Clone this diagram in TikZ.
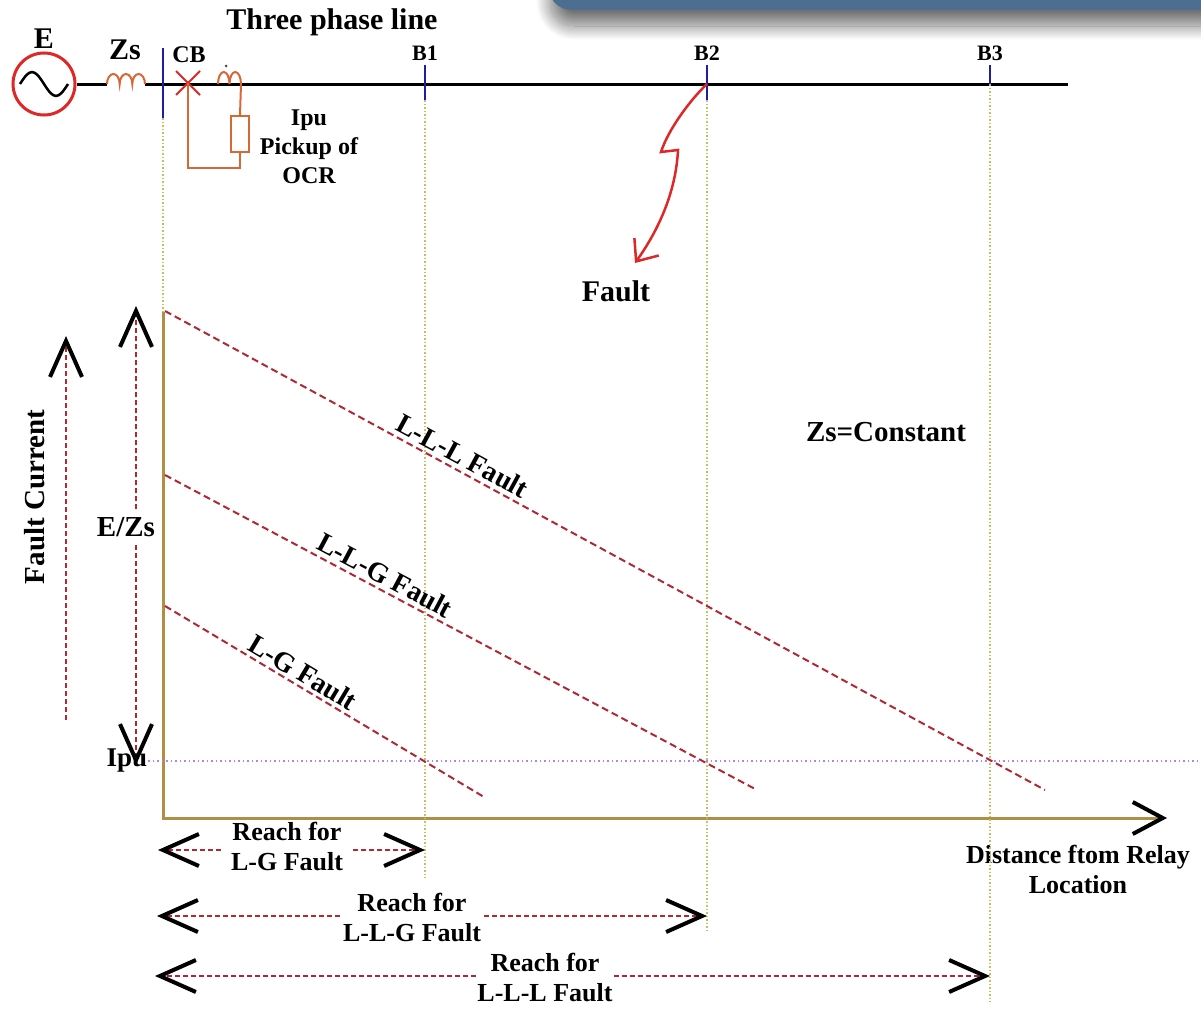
\documentclass[tikz,border=0pt]{standalone}
\usepackage{fontspec}
\setmainfont{Liberation Serif}
\usetikzlibrary{positioning,calc,arrows.meta,shadows.blur}

\definecolor{srcred}{RGB}{222,40,40}
\definecolor{wireorange}{RGB}{214,104,54}
\definecolor{busblue}{RGB}{30,30,160}
\definecolor{guideyellow}{RGB}{196,190,100}
\definecolor{axisgold}{RGB}{176,142,70}
\definecolor{faultred}{RGB}{176,40,52}
\definecolor{ipuviolet}{RGB}{180,130,240}
\definecolor{bannerblue}{RGB}{76,110,145}

\begin{document}
\begin{tikzpicture}[
  x = 1pt,
  y = -1pt,
  big/.style = {
    font = \bfseries\fontsize{30}{32}\selectfont,
    inner sep = 1pt,
  },
  lbl/.style = {
    font = \bfseries\fontsize{26}{30}\selectfont,
    inner sep = 1pt,
    align = center,
  },
  small/.style = {
    font = \bfseries\fontsize{22}{24}\selectfont,
    inner sep = 1pt,
  },
  bus/.style = {draw = busblue, line width = 2.5pt},
  wire/.style = {draw = wireorange, line width = 2pt},
  guide/.style = {draw = guideyellow, line width = 1.3pt, dash pattern = on 1.5pt off 2pt},
  fline/.style = {draw = faultred, line width = 2pt, dash pattern = on 7pt off 4pt},
  dimline/.style = {draw = faultred, line width = 2pt, dash pattern = on 5pt off 3pt},
  axis/.style = {draw = axisgold, line width = 3pt},
  >={Straight Barb[length=36pt, width=32pt, line width=4pt, black]},
]

  \useasboundingbox (0,0) rectangle (1201,1009);

  % slide banner
  \fill[bannerblue, rounded corners=24pt,
    blur shadow={shadow xshift=2pt, shadow yshift=-16pt, shadow blur radius=14pt,
      shadow blur steps=30, shadow opacity=55}]
    (548,-40) rectangle (1240,10);

  % source and line
  \node[draw=srcred, line width=3pt, circle, minimum size=62pt, inner sep=0pt] (src) at (44,84) {};
  \draw[line width=2.5pt] (20,84) sin (32,72) cos (44,84) sin (56,96) cos (68,84);
  \node[big] (e) [above=2pt of src] {E};

  \coordinate (zsa) at (107,84);
  \coordinate (zsb) at (145,84);
  \coordinate (lineend) at (1068,84);
  \draw[line width=3pt] (src.east) -- (zsa);
  \draw[line width=3pt] (zsb) -- (lineend);
  \draw[wire] (zsa) arc[start angle=180, end angle=360, x radius=6.33, y radius=10]
                    arc[start angle=180, end angle=360, x radius=6.33, y radius=10]
                    arc[start angle=180, end angle=360, x radius=6.33, y radius=10];
  \node[big] (zs) at (125,50) {Zs};

  \node[big] (title) at (332,22) {Three phase line};

  % breaker bus
  \coordinate (cbtop) at (163,48);
  \coordinate (cbbot) at (163,118);
  \draw[bus] (cbtop) -- (cbbot);
  \node[small, font=\bfseries\fontsize{24}{26}\selectfont] (cblbl) at (189,55) {CB};

  % breaker, CT and relay
  \coordinate (cb) at (188,83);
  \draw[srcred, line width=2pt] ($(cb)+(-12,-12)$) -- ($(cb)+(12,12)$);
  \draw[srcred, line width=2pt] ($(cb)+(12,-12)$) -- ($(cb)+(-12,12)$);
  \coordinate (cta) at (218,84);
  \coordinate (ctb) at (241,84);
  \draw[wire] (cta) arc[start angle=180, end angle=360, x radius=5.75, y radius=12]
                    arc[start angle=180, end angle=360, x radius=5.75, y radius=12];
  \fill[black!70] (226,66) circle (1.5pt);
  \node[draw=wireorange, line width=2pt, minimum width=18pt, minimum height=36pt, inner sep=0pt] (relay) at (240,134) {};
  \draw[wire] (cb) -- (188,168) -| (relay.south);
  \draw[wire] (relay.north) -- (ctb);
  \node[lbl, font=\bfseries\fontsize{24}{29}\selectfont] (pickup) at (309,147) {Ipu\\Pickup of\\OCR};

  % load buses
  \coordinate (b1top) at (425,65);
  \coordinate (b1bot) at (425,100);
  \coordinate (b2top) at (707,65);
  \coordinate (b2bot) at (707,100);
  \coordinate (b3top) at (990,65);
  \coordinate (b3bot) at (990,84);
  \draw[bus] (b1top) -- (b1bot);
  \draw[bus] (b2top) -- (b2bot);
  \draw[bus] (b3top) -- (b3bot);
  \node[small] (b1) [above=3pt of b1top] {B1};
  \node[small] (b2) [above=3pt of b2top] {B2};
  \node[small] (b3) [above=3pt of b3top] {B3};

  % fault
  \coordinate (fpt) at (707,84);
  \coordinate (ftip) at (635,263);
  \draw[srcred, line width=2.5pt, -{Straight Barb[length=18pt, width=30pt, line width=2.5pt]}]
    (fpt) .. controls (690,100) and (668,130) .. (661,152) -- (678,150)
          .. controls (676,190) and (660,228) .. (ftip);
  \node[big] (fault) at (616,291) {Fault};

  % axes
  \coordinate (orig) at (163,818);
  \coordinate (axtop) at (163,312);
  \coordinate (axend) at (1167,818);
  \draw[axis, -{Straight Barb[length=30pt, width=32pt, line width=4pt, black]}] (axtop) -- (orig) -- (axend);
  \node[lbl] (dist) at (1078,869) {Distance ftom Relay\\Location};

  % guides from buses
  \draw[guide] (cbbot) -- (axtop);
  \draw[guide] (b1bot) -- (425,878);
  \draw[guide] (b2bot) -- (707,933);
  \draw[guide] (b3bot) -- (990,1002);

  % pickup level
  \node[big, font=\bfseries\fontsize{27}{29}\selectfont] (ipu) at (127,761) {Ipu};
  \coordinate (ipuend) at (1201,761);
  \draw[ipuviolet, line width=1.5pt, dash pattern=on 1.5pt off 3pt] (ipu.east) -- (ipuend);

  % fault current lines
  \coordinate (lll0) at (165,311);
  \coordinate (lll1) at (1045,790);
  \coordinate (llg0) at (165,475);
  \coordinate (llg1) at (757,790);
  \coordinate (lg0) at (165,606);
  \coordinate (lg1) at (484,797);
  \draw[fline] (lll0) -- node[lbl, sloped, above=3pt, pos=0.33, font=\bfseries\fontsize{28}{30}\selectfont] {L-L-L Fault} (lll1);
  \draw[fline] (llg0) -- node[lbl, sloped, above=3pt, pos=0.36, font=\bfseries\fontsize{28}{30}\selectfont] {L-L-G Fault} (llg1);
  \draw[fline] (lg0) -- node[lbl, sloped, above=2pt, pos=0.41, font=\bfseries\fontsize{28}{30}\selectfont] {L-G Fault} (lg1);
  \node[big, font=\bfseries\fontsize{29}{30}\selectfont] (zsc) at (886,432) {Zs=Constant};

  % E/Zs span
  \node[big, font=\bfseries\fontsize{29}{30}\selectfont, inner sep=8pt] (ezs) at (126,527) {E/Zs};
  \coordinate (ezsup) at (136,306);
  \coordinate (ezsdn) at (136,765);
  \draw[dimline, ->] (ezs.north -| ezsup) -- (ezsup);
  \draw[dimline, ->] (ezs.south -| ezsdn) -- (ezsdn);

  % fault current axis label
  \node[big, font=\bfseries\fontsize{29}{30}\selectfont, rotate=90] (fc) at (35,497) {Fault Current};
  \coordinate (fcbot) at (66,720);
  \coordinate (fctop) at (66,336);
  \draw[dimline, ->] (fcbot) -- (fctop);

  % reach spans
  \node[lbl, inner xsep=10pt] (r1) at (287,846) {Reach for\\L-G Fault};
  \coordinate (r1l) at (158,850);
  \coordinate (r1r) at (425,850);
  \draw[dimline, ->] (r1.west |- r1l) -- (r1l);
  \draw[dimline, ->] (r1.east |- r1r) -- (r1r);

  \node[lbl, inner xsep=3pt] (r2) at (412,917) {Reach for\\L-L-G Fault};
  \coordinate (r2l) at (157,916);
  \coordinate (r2r) at (707,916);
  \draw[dimline, ->] (r2.west |- r2l) -- (r2l);
  \draw[dimline, ->] (r2.east |- r2r) -- (r2r);

  \node[lbl, inner xsep=1pt] (r3) at (545,977) {Reach for\\L-L-L Fault};
  \coordinate (r3l) at (155,976);
  \coordinate (r3r) at (990,976);
  \draw[dimline, ->] (r3.west |- r3l) -- (r3l);
  \draw[dimline, ->] (r3.east |- r3r) -- (r3r);
\end{tikzpicture}
\end{document}
